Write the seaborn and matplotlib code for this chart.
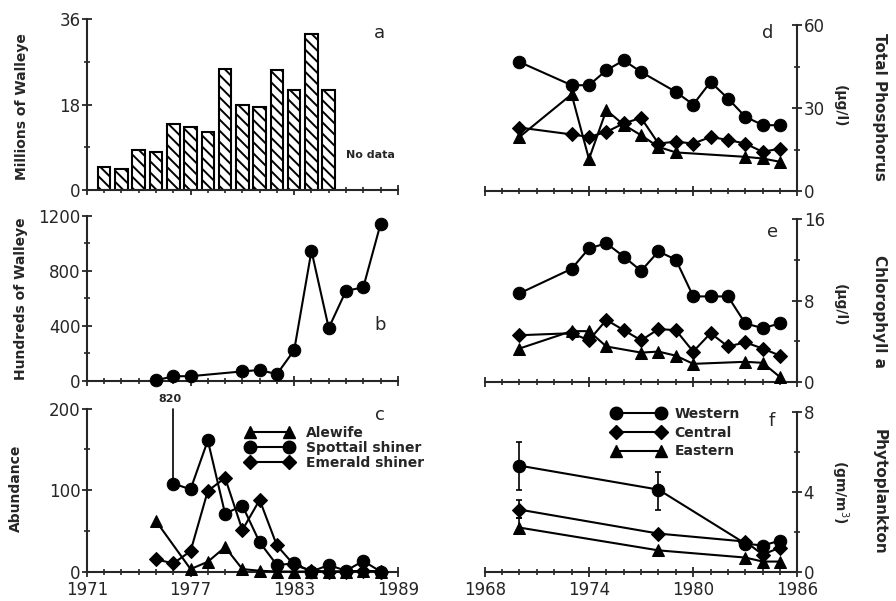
import numpy as np
import pandas as pd
import seaborn as sns
import matplotlib.pyplot as plt
from matplotlib.ticker import MultipleLocator
from matplotlib.lines import Line2D

# ---- panel a: walleye stocks (millions)
years_a = [1972, 1973, 1974, 1975, 1976, 1977, 1978, 1979, 1980, 1981, 1982, 1983, 1984, 1985]
walleye_millions = [4.9, 4.4, 8.4, 8.1, 13.9, 13.3, 12.2, 25.5, 18.0, 17.5, 25.3, 21.1, 32.8, 21.1]

# ---- panel b: walleye (hundreds)
years_b = [1975, 1976, 1977, 1980, 1981, 1982, 1983, 1984, 1985, 1986, 1987, 1988]
walleye_hundreds = [5, 35, 35, 70, 80, 50, 224, 945, 385, 655, 680, 1140]

# ---- panel c: forage fish abundance
years_alewife = [1975, 1977, 1978, 1979, 1980, 1981, 1982, 1983, 1984, 1985, 1986, 1987, 1988]
alewife = [62, 3, 12, 30, 3, 1, 0, 0, 0, 0, 0, 1, 0]
years_spottail = [1976, 1977, 1978, 1979, 1980, 1981, 1982, 1983, 1984, 1985, 1986, 1987, 1988]
spottail = [108, 101, 161, 71, 81, 36, 8, 10, 0, 8, 1, 13, 0]
spottail_offscale = 820   # real value of the first spottail point
years_emerald = [1975, 1976, 1977, 1978, 1979, 1980, 1981, 1982, 1983, 1984, 1985, 1986, 1987, 1988]
emerald = [15, 10, 25, 99, 115, 51, 88, 32, 8, 1, 0, 0, 1, 0]

# ---- panel d: total phosphorus (ug/l)
years_tp_w = [1970, 1973, 1974, 1975, 1976, 1977, 1979, 1980, 1981, 1982, 1983, 1984, 1985]
tp_western = [46.7, 38.3, 38.3, 43.7, 47.3, 43.1, 35.9, 31.3, 39.5, 33.5, 26.9, 23.9, 23.8]
years_tp_c = [1970, 1973, 1974, 1975, 1976, 1977, 1978, 1979, 1980, 1981, 1982, 1983, 1984, 1985]
tp_central = [23.0, 20.5, 19.6, 21.4, 24.5, 26.5, 17.2, 17.9, 17.2, 19.6, 18.5, 17.2, 14.2, 15.4]
years_tp_e = [1970, 1973, 1974, 1975, 1976, 1977, 1978, 1979, 1983, 1984, 1985]
tp_eastern = [19.6, 35.0, 11.6, 29.3, 24.0, 20.2, 16.0, 14.0, 12.4, 11.8, 10.6]

# ---- panel e: chlorophyll a (ug/l)
years_chl_w = [1970, 1973, 1974, 1975, 1976, 1977, 1978, 1979, 1980, 1981, 1982, 1983, 1984, 1985]
chl_western = [8.7, 11.1, 13.1, 13.6, 12.3, 10.9, 12.8, 12.0, 8.4, 8.4, 8.4, 5.75, 5.3, 5.75]
years_chl_c = [1970, 1973, 1974, 1975, 1976, 1977, 1978, 1979, 1980, 1981, 1982, 1983, 1984, 1985]
chl_central = [4.6, 4.8, 4.1, 6.1, 5.1, 4.1, 5.2, 5.1, 3.0, 4.8, 3.5, 3.9, 3.3, 2.6]
years_chl_e = [1970, 1973, 1974, 1975, 1977, 1978, 1979, 1980, 1983, 1984, 1985]
chl_eastern = [3.3, 5.0, 5.0, 3.5, 2.9, 3.0, 2.6, 1.8, 2.0, 1.9, 0.5]

# ---- panel f: phytoplankton (gm/m3)
years_phy = [1970, 1978, 1983, 1984, 1985]
phy_western = [5.3, 4.1, 1.4, 1.3, 1.55]
phy_central = [3.1, 1.9, 1.5, 0.85, 1.2]
phy_eastern = [2.2, 1.06, 0.7, 0.5, 0.5]
err_years_w = [1970, 1978]
err_lo_w = [4.1, 3.1]
err_hi_w = [6.5, 5.0]
err_years_c = [1970]
err_lo_c = [2.7]
err_hi_c = [3.6]
err_years_e = [1970]
err_lo_e = [1.9]
err_hi_e = [2.7]

sns.set_style("ticks")
plt.rcParams['font.family'] = ['DejaVu Sans']
plt.rcParams['hatch.linewidth'] = 1.4

fig = plt.figure(figsize=(8.96, 6.01), dpi=100)
ax_a = fig.add_axes([0.097, 0.684, 0.347, 0.284])
ax_b = fig.add_axes([0.097, 0.366, 0.347, 0.275])
ax_c = fig.add_axes([0.097, 0.049, 0.347, 0.271])
ax_d = fig.add_axes([0.541, 0.682, 0.349, 0.276])
ax_e = fig.add_axes([0.541, 0.364, 0.349, 0.272])
ax_f = fig.add_axes([0.541, 0.049, 0.349, 0.266])

MS = 9
LW = 1.5


def line(ax, x, y, marker, ms=MS):
    sns.lineplot(x=x, y=y, ax=ax, color='black', linewidth=LW, marker=marker,
                 markersize=ms, markeredgecolor='black', markerfacecolor='black',
                 clip_on=False, zorder=3)


def style_axis(ax, xlim, ylim, ymajor, show_x, right=False):
    ax.set_xlim(*xlim)
    ax.set_ylim(*ylim)
    ax.set_xticks(range(xlim[0], xlim[1] + 1, 6))
    ax.xaxis.set_minor_locator(MultipleLocator(1))
    ax.yaxis.set_major_locator(MultipleLocator(ymajor))
    ax.yaxis.set_minor_locator(MultipleLocator(ymajor / 2))
    ax.spines['top'].set_visible(False)
    if right:
        ax.spines['left'].set_visible(False)
        ax.yaxis.tick_right()
    else:
        ax.spines['right'].set_visible(False)
    for s in ax.spines.values():
        s.set_linewidth(1.5)
    ax.tick_params(which='major', direction='inout', length=7, width=1.3,
                   labelsize=12, pad=1)
    ax.tick_params(axis='x', which='major', pad=3.5)
    ax.tick_params(which='minor', direction='inout', length=4, width=1.2)
    if not show_x:
        ax.tick_params(axis='x', labelbottom=False)
    ax.set_xlabel('')
    ax.set_ylabel('')


# panel a
sns.barplot(x=years_a, y=walleye_millions, ax=ax_a, native_scale=True, width=0.73,
            color='white', edgecolor='black', linewidth=1.5, hatch='\\\\\\',
            errorbar=None, saturation=1)
style_axis(ax_a, (1971, 1989), (0, 36), 18, False)
ax_a.text(1987.4, 7.4, 'No data', ha='center', va='center', fontsize=8, weight='bold')
ax_a.set_ylabel('Millions of Walleye', fontsize=10, weight='bold')
ax_a.yaxis.set_label_coords(-0.185, 0.49)

# panel b
line(ax_b, years_b, walleye_hundreds, 'o')
style_axis(ax_b, (1971, 1989), (0, 1200), 400, False)
ax_b.set_ylabel('Hundreds of Walleye', fontsize=10, weight='bold')
ax_b.yaxis.set_label_coords(-0.19, 0.5)

# panel c
line(ax_c, years_alewife, alewife, '^')
line(ax_c, years_spottail, spottail, 'o')
line(ax_c, years_emerald, emerald, 'D', ms=7.5)
style_axis(ax_c, (1971, 1989), (0, 200), 100, True)
ax_c.plot([years_spottail[0], years_spottail[0]], [spottail[0], 200],
          color='black', linewidth=1.2, clip_on=False)
ax_c.text(years_spottail[0] - 0.2, 206, str(spottail_offscale), ha='center',
          va='bottom', fontsize=8, weight='bold')
ax_c.set_ylabel('Abundance', fontsize=10, weight='bold')
ax_c.yaxis.set_label_coords(-0.205, 0.51)
h_c = [Line2D([], [], color='black', lw=LW, marker=m, ms=s)
       for m, s in [('^', MS), ('o', MS), ('D', 7.5)]]
ax_c.legend(h_c, ['Alewife', 'Spottail shiner', 'Emerald shiner'], loc='upper left',
            bbox_to_anchor=(0.49, 0.935), frameon=False, numpoints=2,
            handlelength=3.4, handletextpad=0.9, labelspacing=0.06, borderpad=0,
            prop={'size': 10, 'weight': 'bold'})

# panel d
line(ax_d, years_tp_w, tp_western, 'o')
line(ax_d, years_tp_c, tp_central, 'D', ms=7.5)
line(ax_d, years_tp_e, tp_eastern, '^')
style_axis(ax_d, (1968, 1986), (0, 60), 30, False, right=True)

# panel e
line(ax_e, years_chl_w, chl_western, 'o')
line(ax_e, years_chl_c, chl_central, 'D', ms=7.5)
line(ax_e, years_chl_e, chl_eastern, '^')
style_axis(ax_e, (1968, 1986), (0, 16), 8, False, right=True)

# panel f
for yrs, lo, hi, src_y, src_v in [(err_years_w, err_lo_w, err_hi_w, years_phy, phy_western),
                                  (err_years_c, err_lo_c, err_hi_c, years_phy, phy_central),
                                  (err_years_e, err_lo_e, err_hi_e, years_phy, phy_eastern)]:
    mid = [src_v[src_y.index(y)] for y in yrs]
    ax_f.errorbar(yrs, mid, yerr=[np.subtract(mid, lo), np.subtract(hi, mid)],
                  fmt='none', ecolor='black', elinewidth=1.2, capsize=2.5, capthick=1.2)
line(ax_f, years_phy, phy_western, 'o')
line(ax_f, years_phy, phy_central, 'D', ms=7.5)
line(ax_f, years_phy, phy_eastern, '^')
style_axis(ax_f, (1968, 1986), (0, 8), 4, True, right=True)
h_f = [Line2D([], [], color='black', lw=LW, marker=m, ms=s)
       for m, s in [('o', MS), ('D', 7.5), ('^', MS)]]
ax_f.legend(h_f, ['Western', 'Central', 'Eastern'], loc='upper left',
            bbox_to_anchor=(0.385, 1.075), frameon=False, numpoints=2,
            handlelength=3.8, handletextpad=0.7, labelspacing=0.35, borderpad=0,
            prop={'size': 10, 'weight': 'bold'})

# right-hand titles
for ax, title, unit, ty, uy in [(ax_d, 'Total Phosphorus', '(μg/l)', 0.51, 0.51),
                                (ax_e, 'Chlorophyll a', '(μg/l)', 0.43, 0.47),
                                (ax_f, 'Phytoplankton', '(gm/m$^3$)', 0.50, 0.50)]:
    ax.text(1.262, ty, title, transform=ax.transAxes, rotation=270, ha='center',
            va='center', fontsize=11, weight='bold')
    ax.text(1.135, uy, unit, transform=ax.transAxes, rotation=270, ha='center',
            va='center', fontsize=10, weight='bold')

# panel letters
for ax, letter, px, py in [(ax_a, 'a', 0.942, 0.918), (ax_b, 'b', 0.942, 0.34),
                           (ax_c, 'c', 0.942, 0.963), (ax_d, 'd', 0.904, 0.952),
                           (ax_e, 'e', 0.92, 0.92), (ax_f, 'f', 0.917, 0.94)]:
    ax.text(px, py, letter, transform=ax.transAxes, ha='center', va='center', fontsize=13)

fig.savefig('out.png', dpi=100)
